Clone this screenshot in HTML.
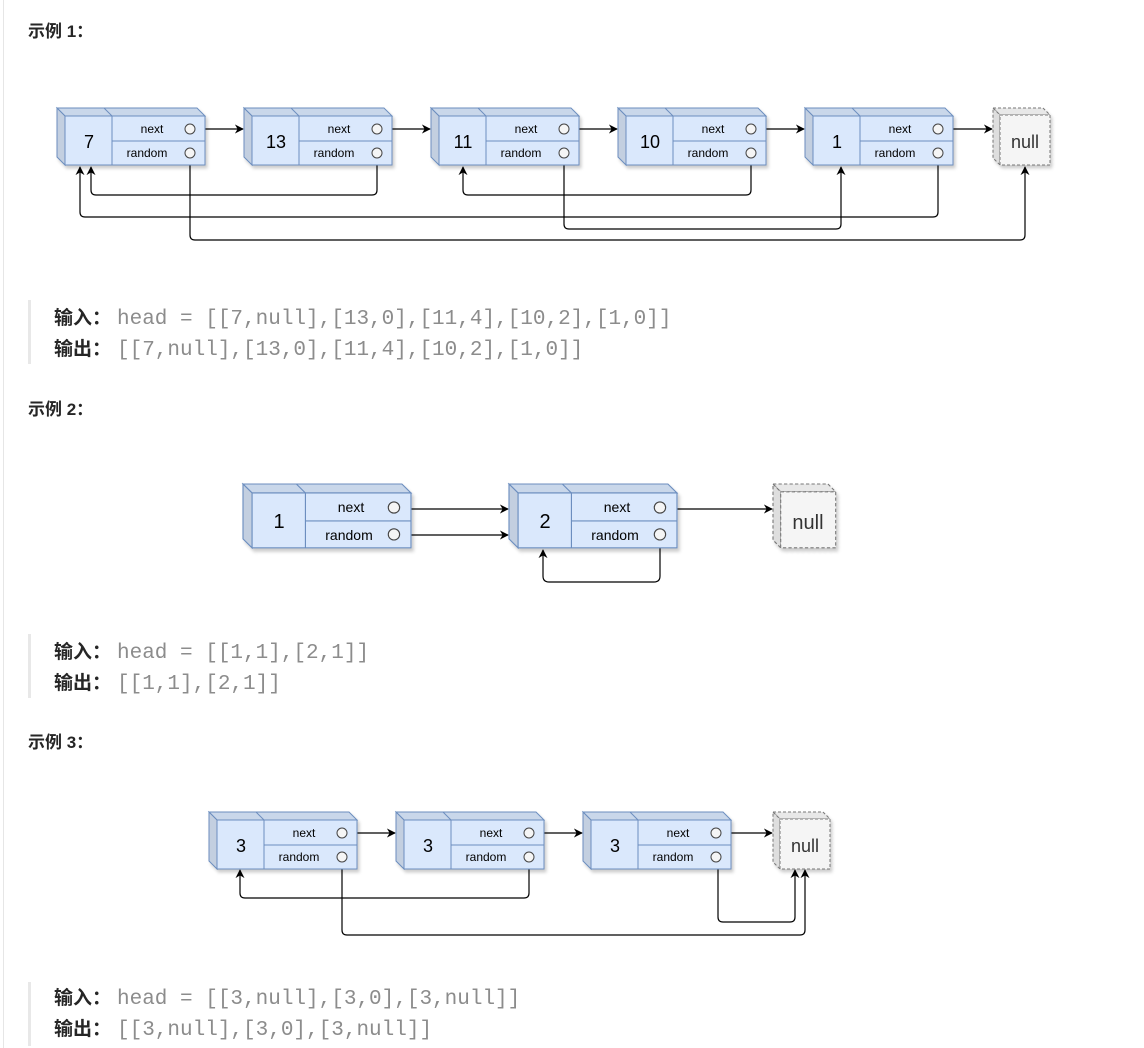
<!DOCTYPE html>
<html><head><meta charset="utf-8"><style>
html,body{margin:0;padding:0;background:#fff;width:1144px;height:1048px;overflow:hidden;position:relative;font-family:"Liberation Sans","Noto Sans CJK SC",sans-serif}
.h{position:absolute;left:28px;font-size:17px;font-weight:bold;color:#262626}
.bq{position:absolute;left:28px;width:3px;background:#e8e8e8}
.ln{position:absolute;left:54px;font-size:19px;color:#262626;white-space:pre}
.ln b{font-family:"Liberation Sans","Noto Sans CJK SC",sans-serif;display:inline-block;width:63px}
.ln span{font-family:"Liberation Mono","DejaVu Sans Mono",monospace;color:#8c8c8c;font-size:21px}
.edge{position:absolute;left:3px;top:0;width:1px;height:1048px;background:#e6e6e6}
svg{position:absolute;left:0;top:0}
</style></head><body>
<div class="edge"></div>
<div class="h" style="top:17px">示例 1：</div>
<div class="bq" style="top:300px;height:64px"></div>
<div class="ln" style="top:303px"><b>输入：</b><span>head = [[7,null],[13,0],[11,4],[10,2],[1,0]]</span></div>
<div class="ln" style="top:334px"><b>输出：</b><span>[[7,null],[13,0],[11,4],[10,2],[1,0]]</span></div>
<div class="h" style="top:395px">示例 2：</div>
<div class="bq" style="top:634px;height:64px"></div>
<div class="ln" style="top:637px"><b>输入：</b><span>head = [[1,1],[2,1]]</span></div>
<div class="ln" style="top:668px"><b>输出：</b><span>[[1,1],[2,1]]</span></div>
<div class="h" style="top:728px">示例 3：</div>
<div class="bq" style="top:982px;height:64px"></div>
<div class="ln" style="top:983px"><b>输入：</b><span>head = [[3,null],[3,0],[3,null]]</span></div>
<div class="ln" style="top:1014px"><b>输出：</b><span>[[3,null],[3,0],[3,null]]</span></div>

<svg width="1144" height="1048" viewBox="0 0 1144 1048" font-family="'Comic Sans MS','Liberation Sans',sans-serif">
<defs>
<filter id="sh" x="-10%" y="-10%" width="130%" height="140%"><feDropShadow dx="2" dy="3" stdDeviation="1.5" flood-color="#000" flood-opacity="0.2"/></filter>
<g id="node" filter="url(#sh)">
<polygon points="0,0 140,0 148,8 8,8" fill="#c9d7ea" stroke="#6c8ebf"/>
<polygon points="0,0 8,8 8,57 0,49" fill="#c3cfe0" stroke="#6c8ebf"/>
<rect x="8" y="8" width="140" height="49" fill="#dae8fc" stroke="#6c8ebf"/>
<line x1="47" y1="0" x2="55" y2="8" stroke="#6c8ebf"/>
<line x1="55" y1="8" x2="55" y2="57" stroke="#6c8ebf"/>
<line x1="55" y1="33" x2="148" y2="33" stroke="#6c8ebf"/>
<circle cx="133" cy="21" r="5" fill="#f5f5f5" stroke="#444"/>
<circle cx="133" cy="45" r="5" fill="#f5f5f5" stroke="#444"/>
</g>
<g id="null" filter="url(#sh)">
<polygon points="0,0 50,0 57,7 7,7" fill="#e8e8e8" stroke="#777" stroke-dasharray="3,2"/>
<polygon points="0,0 7,7 7,57 0,50" fill="#dedede" stroke="#777" stroke-dasharray="3,2"/>
<rect x="7" y="7" width="50" height="50" fill="#f5f5f5" stroke="#777" stroke-dasharray="3,2"/>
</g>
<marker id="ar" viewBox="0 0 10 10" refX="9" refY="5" markerWidth="9" markerHeight="9" orient="auto-start-reverse" markerUnits="userSpaceOnUse"><path d="M0,0 L10,5 L0,10 L3,5 z" fill="#000"/></marker>
</defs>

<g fill="none" stroke="#000" stroke-width="1.2" marker-end="url(#ar)">
<path d="M195,129 H243"/><path d="M382,129 H430"/><path d="M569,129 H617"/><path d="M756,129 H804"/><path d="M943,129 H992"/>
<path d="M190,158 V235 Q190,240 195,240 H1020 Q1025,240 1025,235 V167"/>
<path d="M377,158 V190 Q377,195 372,195 H96 Q91,195 91,190 V167"/>
<path d="M564,158 V224 Q564,229 569,229 H836 Q841,229 841,224 V167"/>
<path d="M751,158 V190 Q751,195 746,195 H468 Q463,195 463,190 V167"/>
<path d="M938,158 V212 Q938,217 933,217 H85 Q80,217 80,212 V167"/>
</g>
<g font-size="12" text-anchor="middle" fill="#000">
<g transform="translate(57,108)"><use href="#node"/><text x="32" y="40" font-size="18">7</text><text x="95" y="25">next</text><text x="90" y="49">random</text></g>
<g transform="translate(244,108)"><use href="#node"/><text x="32" y="40" font-size="18">13</text><text x="95" y="25">next</text><text x="90" y="49">random</text></g>
<g transform="translate(431,108)"><use href="#node"/><text x="32" y="40" font-size="18">11</text><text x="95" y="25">next</text><text x="90" y="49">random</text></g>
<g transform="translate(618,108)"><use href="#node"/><text x="32" y="40" font-size="18">10</text><text x="95" y="25">next</text><text x="90" y="49">random</text></g>
<g transform="translate(805,108)"><use href="#node"/><text x="32" y="40" font-size="18">1</text><text x="95" y="25">next</text><text x="90" y="49">random</text></g>
<g transform="translate(993,108)"><use href="#null"/><text x="32" y="40" font-size="18" fill="#333">null</text></g>
</g>

<g fill="none" stroke="#000" stroke-width="1.2" marker-end="url(#ar)">
<path d="M400,509 H508"/><path d="M400,535 H508"/><path d="M665,509 H772"/>
<path d="M660,540 V576 Q660,582 654,582 H549 Q543,582 543,576 V550"/>
</g>
<g text-anchor="middle" fill="#000">
<g transform="translate(243,484) scale(1.135,1.12)"><use href="#node"/></g>
<text x="279" y="528" font-size="20">1</text><text x="351" y="512" font-size="14">next</text><text x="349" y="540" font-size="14">random</text>
<g transform="translate(509,484) scale(1.135,1.12)"><use href="#node"/></g>
<text x="545" y="528" font-size="20">2</text><text x="617" y="512" font-size="14">next</text><text x="615" y="540" font-size="14">random</text>
<g transform="translate(773,484) scale(1.1,1.12)"><use href="#null"/></g>
<text x="808" y="529" font-size="20" fill="#333">null</text>
</g>

<g fill="none" stroke="#000" stroke-width="1.2" marker-end="url(#ar)">
<path d="M347,833 H395"/><path d="M534,833 H582"/><path d="M723,833 H772"/>
<path d="M342,862 V930 Q342,935 347,935 H800 Q805,935 805,930 V870"/>
<path d="M529,862 V893 Q529,898 524,898 H245 Q240,898 240,893 V870"/>
<path d="M718,862 V917 Q718,922 723,922 H790 Q795,922 795,917 V870"/>
</g>
<g font-size="12" text-anchor="middle" fill="#000">
<g transform="translate(209,812)"><use href="#node"/><text x="32" y="40" font-size="18">3</text><text x="95" y="25">next</text><text x="90" y="49">random</text></g>
<g transform="translate(396,812)"><use href="#node"/><text x="32" y="40" font-size="18">3</text><text x="95" y="25">next</text><text x="90" y="49">random</text></g>
<g transform="translate(583,812)"><use href="#node"/><text x="32" y="40" font-size="18">3</text><text x="95" y="25">next</text><text x="90" y="49">random</text></g>
<g transform="translate(773,812)"><use href="#null"/><text x="32" y="40" font-size="18" fill="#333">null</text></g>
</g>
</svg>
</body></html>
